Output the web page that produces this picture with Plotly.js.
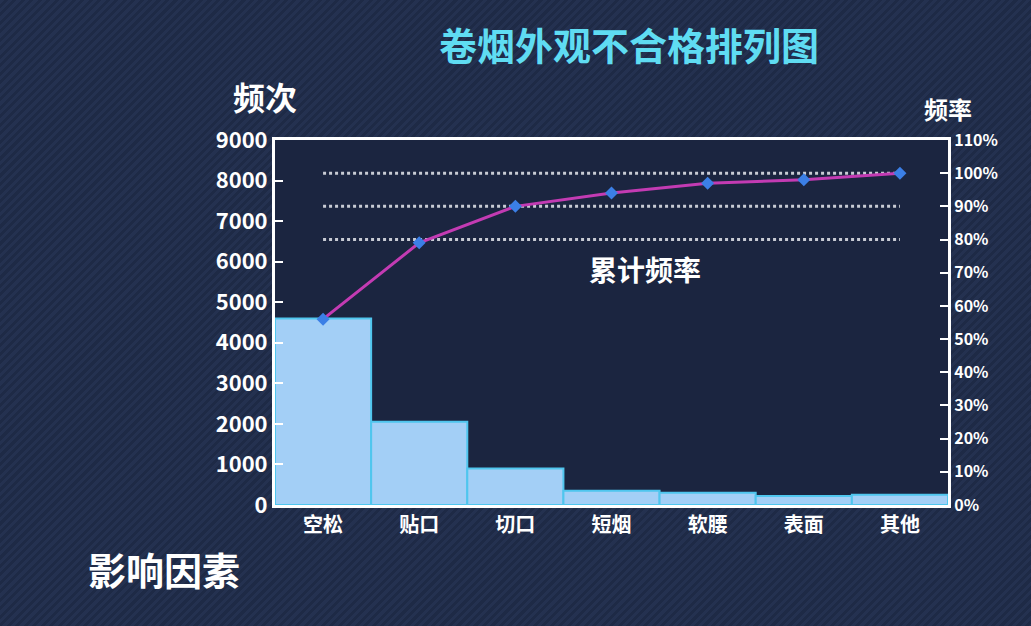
<!DOCTYPE html>
<html>
<head>
<meta charset="utf-8">
<script src="https://cdn.plot.ly/plotly-3.0.1.min.js"></script>
<style>
  html, body { margin: 0; padding: 0; }
  body {
    width: 1031px; height: 626px; overflow: hidden;
    background: repeating-linear-gradient(135deg, #243150 0px, #243150 3px, #1e2a46 3px, #1e2a46 6px);
  }
  #chart { width: 1031px; height: 626px; }
</style>
</head>
<body>
<div id="chart"></div>
<script>
// categories and values
const factors = ['空松', '贴口', '切口', '短烟', '软腰', '表面', '其他'];
const counts = [4600, 2050, 900, 350, 300, 220, 250];
const cumPercent = [56, 79, 90, 94, 97, 98, 100];
const refLines = [80, 90, 100];

const font = 'Noto Sans CJK SC, Noto Sans, sans-serif';

const bars = {
  x: factors,
  y: counts,
  type: 'bar',
  marker: {
    color: '#a3cff6',
    line: { color: '#4fc6ee', width: 2 }
  },
  hoverinfo: 'x+y'
};

const cumLine = {
  x: factors,
  y: cumPercent,
  yaxis: 'y2',
  type: 'scatter',
  mode: 'lines+markers',
  line: { color: '#c33bb3', width: 3 },
  marker: { symbol: 'diamond', size: 10, color: '#3b7fe6' }
};

// dotted reference lines on the percent axis
const shapes = refLines.map(v => ({
  type: 'line',
  xref: 'x', yref: 'y2',
  x0: 0, x1: factors.length - 1,
  y0: v, y1: v,
  line: { color: '#c8cbd4', width: 3, dash: 'dot' },
  layer: 'below'
}));

const layout = {
  width: 1031,
  height: 626,
  margin: { l: 275, r: 83, t: 140, b: 121 },
  paper_bgcolor: 'rgba(0,0,0,0)',
  plot_bgcolor: '#1b2540',
  showlegend: false,
  bargap: 0,
  font: { family: font, color: '#ffffff' },
  title: {
    text: '<b>卷烟外观不合格排列图</b>',
    font: { family: font, size: 38, color: '#5fdcf2' },
    x: 0.61, xanchor: 'center',
    y: 0.925, yanchor: 'middle'
  },
  xaxis: {
    showline: true, linecolor: '#ffffff', linewidth: 3, mirror: true,
    tickfont: { family: font, size: 20, color: '#ffffff', weight: 'bold' },
    ticks: '', showgrid: false, zeroline: false
  },
  yaxis: {
    range: [0, 9000], dtick: 1000,
    showline: true, linecolor: '#ffffff', linewidth: 3,
    ticks: 'inside', ticklen: 8, tickwidth: 2, tickcolor: '#ffffff',
    tickfont: { family: font, size: 22, color: '#ffffff', weight: 'bold' },
    showgrid: false, zeroline: false
  },
  yaxis2: {
    overlaying: 'y', side: 'right',
    range: [0, 110], dtick: 10, ticksuffix: '%',
    showline: true, linecolor: '#ffffff', linewidth: 3,
    ticks: 'inside', ticklen: 8, tickwidth: 2, tickcolor: '#ffffff',
    tickfont: { family: font, size: 16, color: '#ffffff', weight: 'bold' },
    showgrid: false, zeroline: false
  },
  shapes: shapes,
  annotations: [
    { text: '<b>频次</b>', xref: 'paper', yref: 'paper', x: -0.015, y: 1.12,
      xanchor: 'center', yanchor: 'middle', showarrow: false,
      font: { family: font, size: 32, color: '#ffffff' } },
    { text: '<b>频率</b>', xref: 'paper', yref: 'paper', x: 1.0, y: 1.085,
      xanchor: 'center', yanchor: 'middle', showarrow: false,
      font: { family: font, size: 24, color: '#ffffff' } },
    { text: '<b>影响因素</b>', xref: 'paper', yref: 'paper', x: -0.165, y: -0.175,
      xanchor: 'center', yanchor: 'middle', showarrow: false,
      font: { family: font, size: 38, color: '#ffffff' } },
    { text: '<b>累计频率</b>', xref: 'x', yref: 'y2', x: 3.35, y: 71,
      showarrow: false, font: { family: font, size: 28, color: '#ffffff' } }
  ]
};

Plotly.newPlot('chart', [bars, cumLine], layout, { displayModeBar: false, staticPlot: true });
</script>
</body>
</html>
